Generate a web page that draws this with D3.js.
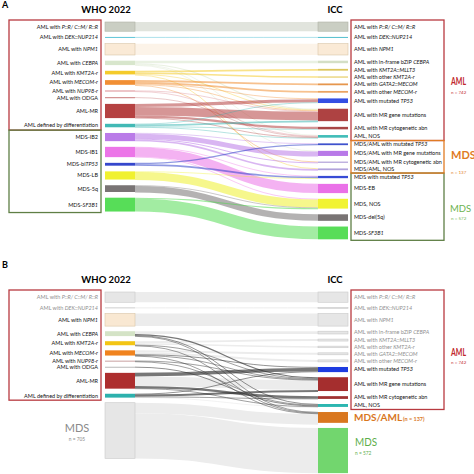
<!DOCTYPE html>
<html><head><meta charset="utf-8">
<script src="https://cdn.jsdelivr.net/npm/d3@7"></script>
<style>
body{margin:0;background:#fff}
svg{display:block}
text{font-family:Lato,"Open Sans",sans-serif}
</style>
</head><body>
<svg id="chart" width="474" height="474"></svg>
<script>
// ---------------- DATA ----------------
const whoKeys   = ["PR","DEK","NPM1","CEBPA","KMT2A","MECOM","NUP98","ODGA","MR","DIFF","IB2","IB1","BITP53","LB","5Q","SF3B1"];
const whoLabels = ["AML with *P::R/ C::M/ R::R*","AML with *DEK::NUP214*","AML with *NPM1*","AML with *CEBPA*","AML with *KMT2A-r*","AML with *MECOM-r*","AML with *NUP98-r*","AML with ODGA","AML-MR","AML defined by differentiation","MDS-IB2","MDS-IB1","MDS-bi*TP53*","MDS-LB","MDS-5q","MDS-*SF3B1*"];
const whoGroups = ["AML","AML","AML","AML","AML","AML","AML","AML","AML","AML","MDS","MDS","MDS","MDS","MDS","MDS"];

const iccKeys   = ["PR","DEK","NPM1","BZIP","MLLT3","OKMT2A","GATA2","OMECOM","ATP53","AMRG","AMRC","ANOS","MATP53","MAMRG","MAMRC","MANOS","MTP53","EB","MNOS","DEL5Q","MSF3B1"];
const iccLabels = ["AML with *P::R/ C::M/ R::R*","AML with *DEK::NUP214*","AML with *NPM1*","AML with in-frame bZIP *CEBPA*","AML with *KMT2A::MLLT3*","AML with other *KMT2A-r*","AML with *GATA2::MECOM*","AML with other *MECOM-r*","AML with mutated *TP53*","AML with MR gene mutations","AML with MR cytogenetic abn","AML, NOS","MDS/AML with mutated *TP53*","MDS/AML with MR gene mutations","MDS/AML with MR cytogenetic abn","MDS/AML, NOS","MDS with mutated *TP53*","MDS-EB","MDS, NOS","MDS-del(5q)","MDS-*SF3B1*"];
const iccGroups = ["AML","AML","AML","AML","AML","AML","AML","AML","AML","AML","AML","AML","MDS/AML","MDS/AML","MDS/AML","MDS/AML","MDS","MDS","MDS","MDS","MDS"];

// patients moving from WHO 2022 category to ICC category
const flows = [
  ["PR","PR",130],["DEK","DEK",10],["NPM1","NPM1",160],
  ["CEBPA","BZIP",35],["CEBPA","AMRG",15],["CEBPA","ANOS",10],["CEBPA","MAMRG",2],
  ["KMT2A","MLLT3",25],["KMT2A","OKMT2A",20],["KMT2A","AMRG",5],["KMT2A","MANOS",1],
  ["MECOM","GATA2",25],["MECOM","OMECOM",25],["MECOM","ATP53",10],["MECOM","AMRG",5],["MECOM","MAMRC",1],
  ["NUP98","AMRG",5],["NUP98","ANOS",5],
  ["ODGA","ANOS",8],
  ["MR","ATP53",45],["MR","AMRG",120],["MR","AMRC",30],["MR","ANOS",5],
  ["DIFF","ATP53",10],["DIFF","AMRG",25],["DIFF","AMRC",5],["DIFF","ANOS",9],
  ["IB2","MATP53",7],["IB2","MAMRG",70],["IB2","MAMRC",14],["IB2","MANOS",24],
  ["IB1","EB",130],["IB1","MTP53",8],["IB1","MNOS",7],
  ["BITP53","MATP53",18],["BITP53","MTP53",22],
  ["LB","MNOS",113],["LB","MTP53",2],
  ["5Q","DEL5Q",92],["5Q","MNOS",3],
  ["SF3B1","MSF3B1",180],["SF3B1","MNOS",15]
];

// panel B: flows that keep their category (drawn light grey)
const keptPairs = [["PR","PR"],["DEK","DEK"],["NPM1","NPM1"],["CEBPA","BZIP"],["KMT2A","MLLT3"],["KMT2A","OKMT2A"],["MECOM","GATA2"],["MECOM","OMECOM"],["MR","AMRG"],["DIFF","ANOS"],["MDS","MDS/AML"],["MDS","MDS"]];

const columnTitles = ["WHO 2022","ICC"];

// ---------------- STYLES ----------------
const colA = {
  L:{PR:"#c4c9bc",DEK:"#4cbfd3",NPM1:"#f9e8d2",CEBPA:"#d4e3c6",KMT2A:"#f3c514",MECOM:"#f0831e",NUP98:"#d77f86",ODGA:"#c46d6d",MR:"#ad2e2e",DIFF:"#2db1ad",IB2:"#b36de6",IB1:"#ea66e6",BITP53:"#1f33c6",LB:"#eef01a","5Q":"#6a6565",SF3B1:"#45d946"},
  R:{PR:"#c4c9bc",DEK:"#3fb8c9",NPM1:"#f9e8d2",BZIP:"#cfdcbf",MLLT3:"#d8c04a",OKMT2A:"#e8d070",GATA2:"#e38b3a",OMECOM:"#e89a50",ATP53:"#1d3be0",AMRG:"#a52e2e",AMRC:"#a03232",ANOS:"#2cb6b0",MATP53:"#2a3fc8",MAMRG:"#b06ae6",MAMRC:"#9e8ad0",MANOS:"#a898d8",MTP53:"#2238d0",EB:"#e862e6",MNOS:"#f0f21c",DEL5Q:"#6a6565",MSF3B1:"#46d946"}
};
const grey = "#e6e6e6";
const colB = {
  L:{PR:grey,DEK:"#cfcfcf",NPM1:"#f9e8d2",CEBPA:"#d4e3c6",KMT2A:"#f3c514",MECOM:"#f0831e",NUP98:"#c9a0a0",ODGA:"#b9b9b9",MR:"#ad2e2e",DIFF:"#2db1ad",MDS:grey},
  R:{PR:grey,DEK:grey,NPM1:grey,BZIP:grey,MLLT3:grey,OKMT2A:grey,GATA2:grey,OMECOM:grey,ATP53:"#1d3be0",AMRG:"#a52e2e",AMRC:"#a03232",ANOS:"#2cb6b0","MDS/AML":"#d9771f",MDS:"#72d66e"}
};
const strokeCol = {PR:"#aeb3a6",NPM1:"#d9c6a8"};
const greyLabelsB = {L:["PR","DEK"],R:["PR","DEK","NPM1","BZIP","MLLT3","OKMT2A","GATA2","OMECOM"]};

const svg = d3.select("#chart");
const X = d3.scaleOrdinal().domain(columnTitles).range([105,318]);
const NODE_W = 30;

function rich(sel, str){
  str.split("*").forEach((s,i)=>{ if(s) sel.append("tspan").attr("font-style", i%2 ? "italic" : null).text(s); });
}

function layout(nodes, top, w, gap){
  let y = top;
  nodes.forEach(n=>{ n.y0 = y; n.h = Math.max(w(n.value),1); n.y1 = y + n.h; y = n.y1 + gap; });
}

function buildPanel(leftNodes, rightNodes, links, top, w, gap){
  const byL = new Map(leftNodes.map(n=>[n.key,n]));
  const byR = new Map(rightNodes.map(n=>[n.key,n]));
  leftNodes.forEach(n=>{ n.value = d3.sum(links.filter(l=>l[0]===n.key), l=>l[2]); n.x0 = X("WHO 2022"); });
  rightNodes.forEach(n=>{ n.value = d3.sum(links.filter(l=>l[1]===n.key), l=>l[2]); n.x0 = X("ICC"); });
  layout(leftNodes, top, w, gap);
  layout(rightNodes, top, w, gap);
  const L = links.map(l=>({s:byL.get(l[0]), t:byR.get(l[1]), value:l[2]}));
  leftNodes.forEach(n=>{
    let off = 0; const f = n.h / Math.max(w(n.value),1e-9);
    L.filter(l=>l.s===n).sort((a,b)=>a.t.y0-b.t.y0).forEach(l=>{ l.w = Math.max(w(l.value)*Math.min(f,1.3),0.7); l.sy = n.y0 + off + l.w/2; off += l.w; });
  });
  rightNodes.forEach(n=>{
    let off = 0;
    L.filter(l=>l.t===n).sort((a,b)=>a.s.y0-b.s.y0).forEach(l=>{ l.ty = n.y0 + off + l.w/2; off += l.w; });
  });
  return L;
}

const linkGen = d3.linkHorizontal().source(d=>[d.s.x0+NODE_W, d.sy]).target(d=>[d.t.x0, d.ty]);

// ---------------- PANEL A ----------------
(function(){
  const left = whoKeys.map((k,i)=>({key:k,label:whoLabels[i],group:whoGroups[i]}));
  const right = iccKeys.map((k,i)=>({key:k,label:iccLabels[i],group:iccGroups[i]}));
  const w = d3.scaleLinear().domain([0,1]).range([0,0.071]);
  const links = buildPanel(left, right, flows, 22, w, 5.7);
  const g = svg.append("g");

  g.append("g").selectAll("path").data(links).join("path")
    .attr("d", linkGen).attr("fill","none")
    .attr("stroke", d=>colA.L[d.s.key]).attr("stroke-opacity",0.5)
    .attr("stroke-width", d=>d.w);

  const nodeG = g.append("g");
  [[left,"L"],[right,"R"]].forEach(([ns,side])=>{
    nodeG.selectAll(null).data(ns).join("rect")
      .attr("x",d=>d.x0).attr("y",d=>d.y0).attr("width",NODE_W).attr("height",d=>d.h)
      .attr("fill",d=>colA[side][d.key]).attr("fill-opacity",0.9)
      .attr("stroke",d=>strokeCol[d.key]||"none").attr("stroke-width",0.6);
  });

  g.append("g").selectAll("text").data(left).join("text")
    .attr("x",98).attr("y",d=>(d.y0+d.y1)/2+1.9).attr("text-anchor","end")
    .attr("font-size",5.5).attr("fill","#111").each(function(d){ rich(d3.select(this), d.label); });
  g.append("g").selectAll("text").data(right).join("text")
    .attr("x",354).attr("y",d=>(d.y0+d.y1)/2+1.9)
    .attr("font-size",5.5).attr("fill","#111").each(function(d){ rich(d3.select(this), d.label); });

  const box = (nodes, grp, x0, x1, col)=>{
    const ns = nodes.filter(n=>n.group===grp);
    const idx0 = nodes.indexOf(ns[0]), idx1 = nodes.indexOf(ns[ns.length-1]);
    const y0 = idx0>0 ? (nodes[idx0-1].y1 + ns[0].y0)/2 : ns[0].y0-2;
    const y1 = idx1<nodes.length-1 ? (ns[ns.length-1].y1 + nodes[idx1+1].y0)/2 : ns[ns.length-1].y1+1;
    g.append("rect").attr("x",x0).attr("y",y0).attr("width",x1-x0).attr("height",y1-y0)
      .attr("fill","none").attr("stroke",col).attr("stroke-width",1.3);
  };
  box(left,"AML",9,101,"#b83a40");
  box(left,"MDS",9,101,"#5f7f45");
  box(right,"AML",351,444,"#b83a40");
  box(right,"MDS",351,444,"#5f7f45");
  box(right,"MDS/AML",351,444,"#e07b24");

  const sumR = grp=>d3.sum(right.filter(n=>n.group===grp),n=>n.value);
  g.append("text").attr("x",451).attr("y",85).attr("font-size",11).attr("font-weight",700).attr("fill","#c0272d")
    .attr("textLength",15).attr("lengthAdjust","spacingAndGlyphs").text("AML");
  g.append("text").attr("x",451).attr("y",94).attr("font-size",4.5).attr("fill","#c0272d").text("n = "+sumR("AML"));
  g.append("text").attr("x",451).attr("y",159).attr("font-size",11).attr("font-weight",700).attr("fill","#e07b24").text("MDS/AML");
  g.append("text").attr("x",451).attr("y",174).attr("font-size",4.5).attr("fill","#e07b24").text("n = "+sumR("MDS/AML"));
  g.append("text").attr("x",450).attr("y",212).attr("font-size",9.5).attr("fill","#6db34f").text("MDS");
  g.append("text").attr("x",451).attr("y",220).attr("font-size",4.5).attr("fill","#6db34f").text("n = "+sumR("MDS"));

  g.append("text").attr("x",2).attr("y",8).attr("font-size",9).attr("font-weight",700).text("A");
  g.append("text").attr("x",106).attr("y",13).attr("text-anchor","middle").attr("font-size",9.5).attr("font-weight",700).text(columnTitles[0]);
  g.append("text").attr("x",335).attr("y",13).attr("text-anchor","middle").attr("font-size",9.5).attr("font-weight",700).text(columnTitles[1]);
})();

// ---------------- PANEL B ----------------
(function(){
  const whoGroupOf = new Map(whoKeys.map((k,i)=>[k,whoGroups[i]]));
  const iccGroupOf = new Map(iccKeys.map((k,i)=>[k,iccGroups[i]]));
  const mapL = k => whoGroupOf.get(k)==="MDS" ? "MDS" : k;
  const mapR = k => iccGroupOf.get(k)==="AML" ? k : iccGroupOf.get(k);
  const roll = d3.rollup(flows, v=>d3.sum(v,d=>d[2]), d=>mapL(d[0]), d=>mapR(d[1]));
  const flowsB = [];
  roll.forEach((m,s)=>m.forEach((v,t)=>flowsB.push([s,t,v])));

  const left = whoKeys.filter((k,i)=>whoGroups[i]==="AML").map(k=>({key:k,label:whoLabels[whoKeys.indexOf(k)],group:"AML"}));
  left.push({key:"MDS",label:"",group:"MDS"});
  const right = iccKeys.filter((k,i)=>iccGroups[i]==="AML").map(k=>({key:k,label:iccLabels[iccKeys.indexOf(k)],group:"AML"}));
  right.push({key:"MDS/AML",label:"",group:"MDS/AML"},{key:"MDS",label:"",group:"MDS"});

  const w = d3.scaleLinear().domain([0,1]).range([0,0.079]);
  const links = buildPanel(left, right, flowsB, 292, w, 5.1);
  const kept = new Set(keptPairs.map(p=>p.join(">")));
  links.forEach(l=>l.kept = kept.has(l.s.key+">"+l.t.key));

  const g = svg.append("g");
  g.append("g").selectAll("path").data(links.filter(l=>l.kept)).join("path")
    .attr("d",linkGen).attr("fill","none").attr("stroke","#ececec").attr("stroke-width",d=>d.w);
  g.append("g").selectAll("path").data(links.filter(l=>!l.kept)).join("path")
    .attr("d",linkGen).attr("fill","none").attr("stroke","#2e2e2e").attr("stroke-opacity",0.65).attr("stroke-width",d=>d.w);

  const nodeG = g.append("g");
  [[left,"L"],[right,"R"]].forEach(([ns,side])=>{
    nodeG.selectAll(null).data(ns).join("rect")
      .attr("x",d=>d.x0).attr("y",d=>d.y0).attr("width",NODE_W).attr("height",d=>d.h)
      .attr("fill",d=>colB[side][d.key])
      .attr("stroke",d=> colB[side][d.key]===grey ? "#c9c9c9" : (d.key==="NPM1"&&side==="L" ? "#d9c6a8" : "none"))
      .attr("stroke-width",0.6);
  });

  g.append("g").selectAll("text").data(left.filter(n=>n.label)).join("text")
    .attr("x",98).attr("y",d=>(d.y0+d.y1)/2+1.9).attr("text-anchor","end")
    .attr("font-size",5.5).attr("fill",d=>greyLabelsB.L.includes(d.key)?"#8f8f8f":"#111")
    .each(function(d){ rich(d3.select(this), d.label); });
  g.append("g").selectAll("text").data(right.filter(n=>n.label)).join("text")
    .attr("x",354).attr("y",d=>(d.y0+d.y1)/2+1.9)
    .attr("font-size",5.5).attr("fill",d=>greyLabelsB.R.includes(d.key)?"#8f8f8f":"#111")
    .each(function(d){ rich(d3.select(this), d.label); });

  const lA = left.filter(n=>n.group==="AML"), rA = right.filter(n=>n.group==="AML");
  const lMds = left.find(n=>n.key==="MDS"), rMA = right.find(n=>n.key==="MDS/AML"), rMds = right.find(n=>n.key==="MDS");
  g.append("rect").attr("x",9).attr("y",lA[0].y0-2).attr("width",92)
    .attr("height",(lA[lA.length-1].y1+lMds.y0)/2-(lA[0].y0-2)).attr("fill","none").attr("stroke","#b83a40").attr("stroke-width",1.3);
  g.append("rect").attr("x",351).attr("y",rA[0].y0-2).attr("width",93)
    .attr("height",(rA[rA.length-1].y1+rMA.y0)/2-(rA[0].y0-2)).attr("fill","none").attr("stroke","#b83a40").attr("stroke-width",1.3);

  g.append("text").attr("x",451).attr("y",356).attr("font-size",11).attr("font-weight",700).attr("fill","#c0272d")
    .attr("textLength",15).attr("lengthAdjust","spacingAndGlyphs").text("AML");
  g.append("text").attr("x",451).attr("y",364).attr("font-size",4.5).attr("fill","#c0272d").text("n = "+d3.sum(rA,n=>n.value));

  const my = (rMA.y0+rMA.y1)/2+4;
  g.append("text").attr("x",354).attr("y",my).attr("fill","#d9771f").attr("font-size",10).attr("font-weight",700)
    .text("MDS/AML");
  g.append("text").attr("x",403).attr("y",my).attr("fill","#d9771f").attr("font-size",5.5).attr("font-weight",700)
    .text("(n = "+rMA.value+")");
  g.append("text").attr("x",355).attr("y",446).attr("font-size",12).attr("fill","#5cae4a")
    .attr("textLength",22).attr("lengthAdjust","spacingAndGlyphs").text("MDS");
  g.append("text").attr("x",355).attr("y",455).attr("font-size",4.8).attr("fill","#5cae4a").text("n = "+rMds.value);

  g.append("text").attr("x",77).attr("y",432).attr("text-anchor","middle").attr("font-size",11).attr("fill","#8a8a8a").text("MDS");
  g.append("text").attr("x",77).attr("y",441).attr("text-anchor","middle").attr("font-size",4.8).attr("fill","#8a8a8a").text("n = "+lMds.value);

  g.append("text").attr("x",2).attr("y",268).attr("font-size",9).attr("font-weight",700).text("B");
  g.append("text").attr("x",106).attr("y",283).attr("text-anchor","middle").attr("font-size",9.5).attr("font-weight",700).text(columnTitles[0]);
  g.append("text").attr("x",335).attr("y",283).attr("text-anchor","middle").attr("font-size",9.5).attr("font-weight",700).text(columnTitles[1]);
})();
</script>
</body></html>
